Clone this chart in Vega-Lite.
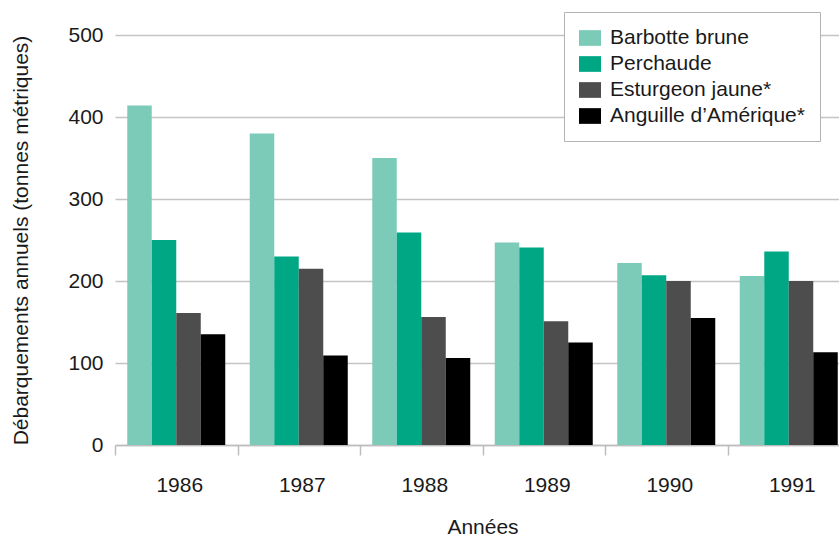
{
  "$schema": "https://vega.github.io/schema/vega-lite/v6.json",
  "width": 724,
  "height": 410,
  "autosize": {"type": "none"},
  "padding": {"left": 115, "top": 35, "right": 0, "bottom": 92},
  "background": "white",
  "config": {"view": {"stroke": null}, "font": "Liberation Sans"},
  "data": {
    "values": [
      {"annee": "1986", "espece": "Barbotte brune", "valeur": 414},
      {"annee": "1986", "espece": "Perchaude", "valeur": 250},
      {"annee": "1986", "espece": "Esturgeon jaune*", "valeur": 161},
      {"annee": "1986", "espece": "Anguille d’Amérique*", "valeur": 135},
      {"annee": "1987", "espece": "Barbotte brune", "valeur": 380},
      {"annee": "1987", "espece": "Perchaude", "valeur": 230},
      {"annee": "1987", "espece": "Esturgeon jaune*", "valeur": 215},
      {"annee": "1987", "espece": "Anguille d’Amérique*", "valeur": 109},
      {"annee": "1988", "espece": "Barbotte brune", "valeur": 350},
      {"annee": "1988", "espece": "Perchaude", "valeur": 259},
      {"annee": "1988", "espece": "Esturgeon jaune*", "valeur": 156},
      {"annee": "1988", "espece": "Anguille d’Amérique*", "valeur": 106},
      {"annee": "1989", "espece": "Barbotte brune", "valeur": 247},
      {"annee": "1989", "espece": "Perchaude", "valeur": 241},
      {"annee": "1989", "espece": "Esturgeon jaune*", "valeur": 151},
      {"annee": "1989", "espece": "Anguille d’Amérique*", "valeur": 125},
      {"annee": "1990", "espece": "Barbotte brune", "valeur": 222},
      {"annee": "1990", "espece": "Perchaude", "valeur": 207},
      {"annee": "1990", "espece": "Esturgeon jaune*", "valeur": 200},
      {"annee": "1990", "espece": "Anguille d’Amérique*", "valeur": 155},
      {"annee": "1991", "espece": "Barbotte brune", "valeur": 206},
      {"annee": "1991", "espece": "Perchaude", "valeur": 236},
      {"annee": "1991", "espece": "Esturgeon jaune*", "valeur": 200},
      {"annee": "1991", "espece": "Anguille d’Amérique*", "valeur": 113}
    ]
  },
  "mark": {"type": "bar"},
  "encoding": {
    "x": {
      "field": "annee",
      "type": "nominal",
      "scale": {"range": [0, 735], "paddingInner": 0, "paddingOuter": 0},
      "axis": {
        "title": "Années",
        "titleFontSize": 21,
        "titleFontWeight": "normal",
        "titleColor": "#1a1a1a",
        "titlePadding": 21,
        "labelAngle": 0,
        "labelFontSize": 21,
        "labelColor": "#1a1a1a",
        "labelPadding": 19,
        "labelOffset": 3,
        "tickBand": "extent",
        "tickSize": 10,
        "tickColor": "#bdbdbd",
        "tickWidth": 1.5,
        "domainColor": "#bdbdbd",
        "domainWidth": 1.5,
        "grid": false
      }
    },
    "xOffset": {
      "field": "espece",
      "type": "nominal",
      "scale": {
        "domain": ["Barbotte brune", "Perchaude", "Esturgeon jaune*", "Anguille d’Amérique*"],
        "paddingInner": 0,
        "paddingOuter": 0.5
      }
    },
    "y": {
      "field": "valeur",
      "type": "quantitative",
      "scale": {"domain": [0, 500], "nice": false},
      "axis": {
        "title": "Débarquements annuels (tonnes métriques)",
        "titleFontSize": 21,
        "titleFontWeight": "normal",
        "titleColor": "#1a1a1a",
        "titlePadding": 36,
        "values": [0, 100, 200, 300, 400, 500],
        "labelFontSize": 21,
        "labelColor": "#1a1a1a",
        "labelPadding": 12,
        "domain": false,
        "ticks": false,
        "grid": true,
        "gridColor": "#c4c4c4",
        "gridWidth": 1.5
      }
    },
    "color": {
      "field": "espece",
      "type": "nominal",
      "scale": {
        "domain": ["Barbotte brune", "Perchaude", "Esturgeon jaune*", "Anguille d’Amérique*"],
        "range": ["#7ccbb8", "#00a785", "#4d4d4d", "#000000"]
      },
      "legend": {
        "title": null,
        "orient": "none",
        "legendX": 449,
        "legendY": -23,
        "fillColor": "white",
        "strokeColor": "#b4b4b4",
        "padding": 15,
        "symbolType": "M-1,-0.714L1,-0.714L1,0.714L-1,0.714Z",
        "symbolSize": 484,
        "symbolStrokeWidth": 0,
        "labelFontSize": 21,
        "labelColor": "#1a1a1a",
        "labelOffset": 9,
        "rowPadding": 5,
        "labelLimit": 300
      }
    }
  }
}
